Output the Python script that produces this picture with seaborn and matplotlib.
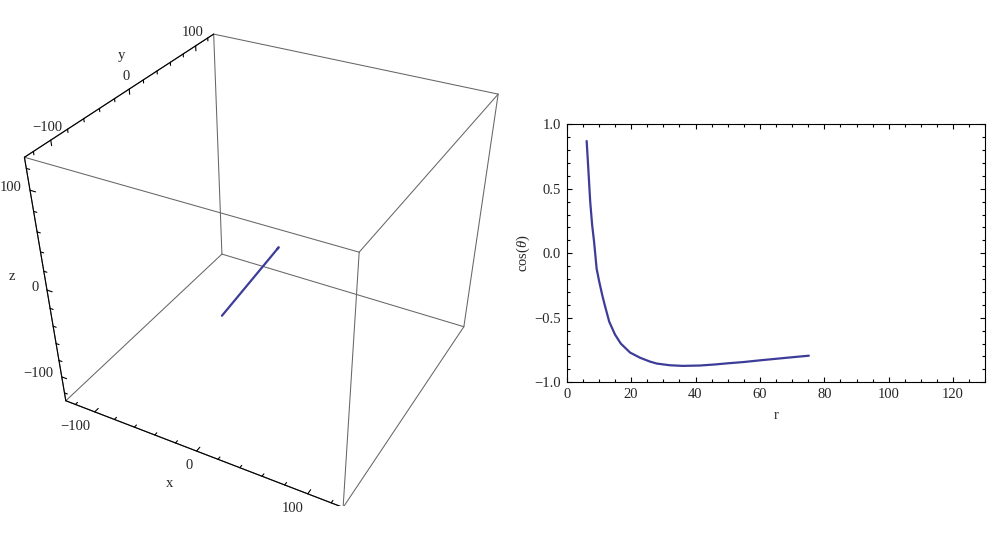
import numpy as np
import matplotlib
matplotlib.use("Agg")
import matplotlib.pyplot as plt
import matplotlib.ticker as mticker
from matplotlib.transforms import IdentityTransform
import seaborn as sns

# trajectory
r_vals = [6.2, 6.7, 7.3, 7.9, 8.5, 9.3, 10.1, 11.0, 11.8, 13.2, 15.0, 16.8, 19.7,
          22.8, 25.9, 28.0, 32.0, 36.0, 41.5, 46.0, 50.0, 55.0, 60.0, 65.0, 70.0, 75.2]
cos_theta = [0.87, 0.66, 0.40, 0.22, 0.09, -0.12, -0.22, -0.32, -0.40, -0.53, -0.63,
             -0.70, -0.77, -0.81, -0.84, -0.855, -0.868, -0.873, -0.870, -0.862,
             -0.853, -0.843, -0.830, -0.818, -0.806, -0.794]
# orbit plane (estimated): line of nodes azimuth and inclination
node_deg = -86.0
incl_deg = 60.8

box_lim = 130
major_3d = [-100, 0, 100]
minor_3d = [-120, -80, -60, -40, -20, 20, 40, 60, 80, 120]
r_ticks = [0, 20, 40, 60, 80, 100, 120]
cos_ticks = [-1.0, -0.5, 0.0, 0.5, 1.0]

line_color = "#3d3d99"

sns.set_style("ticks")
plt.rcParams["font.family"] = ["Liberation Serif", "DejaVu Serif"]
plt.rcParams["mathtext.fontset"] = "custom"
plt.rcParams["mathtext.rm"] = "Liberation Serif"
plt.rcParams["mathtext.it"] = "Liberation Serif:italic"
plt.rcParams["font.size"] = 10.5

W, H = 1000, 542
fig = plt.figure(figsize=(W / 100, H / 100), dpi=100)

# ---- 3D panel ----
L = box_lim
# camera matched to the reference box (the reference is slightly squashed vertically)
ax3 = fig.add_axes([-1.37 / W, 35.77 / H, 535.53 / W, 492.42 / H], projection="3d")
ax3.apply_aspect = lambda position=None: None
ax3.set_xlim(-L, L); ax3.set_ylim(-L, L); ax3.set_zlim(-L, L)
ax3.set_box_aspect((1, 1, 1))
ax3.view_init(elev=36.213, azim=-61.632, roll=-0.02)
ax3.set_proj_type("persp", focal_length=0.3759)
ax3.set_axis_off()

# box edges
edge_kw = dict(color="#666666", lw=0.75)
for a in (-L, L):
    for b in (-L, L):
        ax3.plot([-L, L], [a, a], [b, b], **edge_kw)
        ax3.plot([a, a], [-L, L], [b, b], **edge_kw)
        ax3.plot([a, a], [b, b], [-L, L], **edge_kw)

# axes lines and ticks
ax_kw = dict(color="black", lw=0.8)
ax3.plot([-L, L], [-L, -L], [-L, -L], **ax_kw)
ax3.plot([-L, -L], [-L, L], [L, L], **ax_kw)
ax3.plot([-L, -L], [-L, -L], [-L, L], **ax_kw)
for t in major_3d + minor_3d:
    d = 5 if t in major_3d else 3
    ax3.plot([t, t], [-L, -L + d], [-L, -L], **ax_kw)
    ax3.plot([-L, -L], [t, t], [L, L - d], **ax_kw)
    ax3.plot([-L, -L + d], [-L, -L], [t, t], **ax_kw)

M = ax3.get_proj()


def lab(x, y, z, s, dx, dy, ha="center"):
    v = M @ np.array([x, y, z, 1.0])
    px, py = ax3.transData.transform((v[0] / v[3], v[1] / v[3]))
    fig.text(px + dx, py + dy, s, transform=IdentityTransform(), ha=ha, va="center")


for t in major_3d:
    s = str(t).replace("-", "\u2212")
    lab(t, -L, -L, s, -4, -14.5, ha="right")
    lab(-L, t, L, s, -3, 13)
    lab(-L, -L, t, s, -8, 3, ha="right")
lab(0, -L, -L, "x", -27, -32)
lab(-L, 0, L, "y", -8, 34)
lab(-L, -L, 0, "z", -35, 14)

# orbit in its plane: in-plane angle from cos(theta), swinging past the minimum
rr = np.array(r_vals)
ct = np.array(cos_theta)
si = np.sin(np.deg2rad(incl_deg))
ci = np.cos(np.deg2rad(incl_deg))
s_ratio = np.clip(ct / si, -1, 1)
imin = int(np.argmin(ct))
psi = np.where(np.arange(len(ct)) <= imin, np.pi - np.arcsin(s_ratio),
               2 * np.pi + np.arcsin(s_ratio))
al = np.deg2rad(node_deg)
e1 = np.array([np.cos(al), np.sin(al), 0.0])
e2 = np.array([-np.sin(al) * ci, np.cos(al) * ci, si])
pts = rr[:, None] * (np.cos(psi)[:, None] * e1 + np.sin(psi)[:, None] * e2)
ax3.plot(pts[:, 0], pts[:, 1], pts[:, 2], color=line_color, lw=1.6)

# ---- 2D panel ----
ax2 = fig.add_axes([0.5667, 0.2947, 0.4186, 0.476])
sns.lineplot(x=r_vals, y=cos_theta, sort=False, estimator=None, color=line_color,
             lw=1.6, ax=ax2)
ax2.set_xlim(0, 130)
ax2.set_ylim(-1, 1)
ax2.set_xticks(r_ticks)
ax2.set_yticks(cos_ticks)
ax2.xaxis.set_minor_locator(mticker.MultipleLocator(5))
ax2.yaxis.set_minor_locator(mticker.MultipleLocator(0.1))
ax2.yaxis.set_major_formatter(mticker.FuncFormatter(lambda v, _: f"{v:.1f}".replace("-", "\u2212")))
ax2.tick_params(which="both", direction="in", top=True, right=True, width=0.8,
                color="black", labelsize=10.5, pad=4)
ax2.tick_params(which="major", length=3.5)
ax2.tick_params(which="minor", length=2)
for sp in ax2.spines.values():
    sp.set_linewidth(0.8)
    sp.set_color("black")
ax2.set_xlabel("r", labelpad=6)
ax2.set_ylabel(r"cos($\theta$)", labelpad=1.5)

fig.savefig("out.png", dpi=100)
